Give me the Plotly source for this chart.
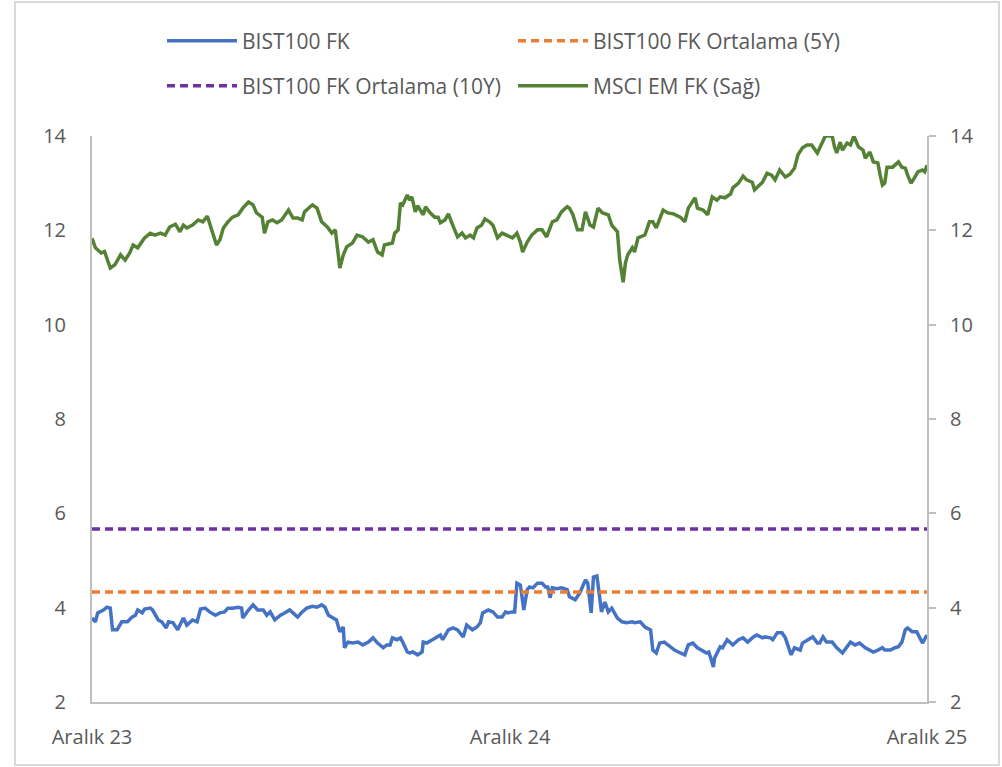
import pandas as pd
import plotly.graph_objects as go

START = "2023-12-01"

# MSCI EM F/K (right axis) - day offsets from START and values
msci_days = [0, 3, 8, 11, 16, 20, 25, 29, 33, 36, 40, 46, 51, 55, 60, 64, 68, 73, 77, 80,
             83, 88, 93, 97, 101, 105, 109, 112, 115, 119, 123, 128, 132, 137, 141, 144, 149, 151, 154, 158,
             162, 166, 172, 176, 180, 184, 186, 191, 193, 197, 201, 206, 210, 213, 217, 220, 223, 228, 232, 237,
             242, 246, 250, 254, 256, 263, 265, 268, 270, 272, 276, 278, 280, 283, 285, 290, 292, 296, 300, 303,
             305, 309, 312, 315, 320, 324, 327, 331, 334, 337, 341, 344, 348, 351, 355, 359, 363, 368, 372, 375,
             377, 381, 385, 390, 394, 398, 403, 407, 411, 416, 418, 421, 425, 429, 432, 436, 439, 443, 447, 452,
             455, 460, 462, 465, 467, 469, 473, 475, 478, 484, 488, 491, 494, 500, 504, 509, 515, 519, 522, 528,
             530, 535, 539, 543, 547, 550, 554, 559, 561, 566, 570, 573, 578, 580, 587, 591, 595, 598, 602, 607,
             611, 615, 618, 622, 626, 630, 635, 637, 642, 648, 650, 652, 655, 657, 661, 664, 667, 671, 675, 677,
             681, 684, 688, 690, 692, 694, 696, 701, 706, 709, 712, 714, 717, 719, 723, 727, 729, 731]
msci_fk = [11.83, 11.63, 11.52, 11.55, 11.20, 11.27, 11.48, 11.37, 11.52, 11.69, 11.63, 11.84, 11.94, 11.90, 11.94, 11.90, 12.07, 12.13, 11.97, 12.11,
           12.05, 12.11, 12.22, 12.18, 12.30, 12.01, 11.69, 11.80, 12.05, 12.18, 12.28, 12.33, 12.47, 12.60, 12.54, 12.37, 12.28, 11.94, 12.18, 12.22,
           12.16, 12.22, 12.43, 12.26, 12.26, 12.22, 12.39, 12.50, 12.54, 12.47, 12.18, 12.07, 11.94, 12.01, 11.20, 11.48, 11.65, 11.73, 11.90, 11.86,
           11.75, 11.80, 11.54, 11.48, 11.69, 11.73, 11.94, 12.01, 12.58, 12.54, 12.75, 12.64, 12.71, 12.39, 12.52, 12.33, 12.50, 12.37, 12.28, 12.28,
           12.16, 12.22, 12.35, 12.16, 11.86, 11.94, 11.84, 11.90, 11.84, 12.05, 12.11, 12.24, 12.18, 12.11, 11.84, 11.94, 11.90, 11.84, 11.94, 11.75,
           11.54, 11.75, 11.90, 12.01, 12.01, 11.86, 12.18, 12.22, 12.39, 12.50, 12.47, 12.33, 12.01, 12.01, 12.39, 12.11, 12.07, 12.47, 12.37, 12.33,
           12.11, 11.97, 11.37, 10.90, 11.31, 11.48, 11.63, 11.54, 11.84, 11.90, 12.18, 12.18, 12.05, 12.43, 12.37, 12.35, 12.28, 12.18, 12.47, 12.69,
           12.47, 12.43, 12.33, 12.71, 12.64, 12.71, 12.69, 12.77, 12.90, 13.00, 13.15, 13.07, 13.02, 12.86, 13.02, 13.21, 13.17, 13.07, 13.28, 13.13,
           13.19, 13.32, 13.60, 13.75, 13.81, 13.81, 13.64, 13.75, 14.00, 14.00, 13.77, 13.64, 13.87, 13.70, 13.85, 13.81, 14.00, 13.77, 13.70, 13.53,
           13.66, 13.45, 13.43, 13.17, 12.96, 13.00, 13.34, 13.34, 13.45, 13.34, 13.32, 13.17, 13.00, 13.07, 13.24, 13.28, 13.24, 13.38]

# BIST100 F/K (left axis)
bist_days = [0, 3, 5, 10, 13, 16, 18, 22, 26, 31, 35, 38, 40, 44, 46, 51, 53, 58, 61, 65,
             67, 71, 75, 80, 83, 88, 92, 95, 99, 103, 108, 112, 116, 119, 123, 128, 131, 132, 137, 141,
             145, 150, 153, 156, 160, 165, 169, 173, 176, 180, 184, 188, 193, 197, 201, 204, 207, 211, 214, 217,
             220, 221, 224, 228, 233, 237, 242, 246, 250, 255, 258, 261, 263, 267, 270, 272, 276, 278, 281, 285,
             289, 290, 293, 298, 302, 305, 307, 312, 316, 320, 325, 328, 333, 337, 340, 342, 347, 351, 355, 359,
             362, 364, 368, 370, 372, 375, 376, 378, 381, 383, 386, 390, 394, 397, 399, 401, 403, 407, 411, 416,
             418, 423, 427, 432, 434, 437, 439, 442, 444, 446, 449, 452, 455, 460, 464, 468, 473, 475, 480, 484,
             489, 491, 494, 497, 501, 506, 510, 515, 519, 522, 526, 530, 534, 538, 540, 544, 545, 550, 552, 556,
             561, 566, 570, 574, 579, 582, 587, 589, 594, 596, 600, 604, 607, 609, 612, 615, 620, 622, 627, 631,
             635, 637, 640, 643, 648, 652, 657, 661, 664, 668, 672, 677, 681, 684, 688, 692, 694, 699, 703, 706,
             709, 712, 714, 718, 722, 725, 727, 731]
bist_fk = [3.78, 3.70, 3.89, 3.95, 4.01, 3.99, 3.53, 3.53, 3.70, 3.70, 3.80, 3.84, 3.95, 3.89, 3.97, 3.99, 3.95, 3.74, 3.70, 3.57,
           3.70, 3.68, 3.53, 3.78, 3.63, 3.74, 3.70, 3.97, 3.99, 3.91, 3.84, 3.89, 3.91, 3.99, 3.99, 4.01, 3.99, 3.78, 3.95, 4.06,
           3.95, 3.95, 3.84, 3.91, 3.74, 3.84, 3.89, 3.95, 3.89, 3.80, 3.91, 3.99, 4.03, 4.01, 4.06, 4.01, 3.84, 3.78, 3.74, 3.49,
           3.59, 3.15, 3.27, 3.25, 3.27, 3.21, 3.27, 3.36, 3.25, 3.15, 3.21, 3.21, 3.36, 3.32, 3.36, 3.27, 3.06, 3.04, 3.06, 3.00,
           3.06, 3.27, 3.25, 3.32, 3.38, 3.42, 3.32, 3.53, 3.57, 3.53, 3.38, 3.63, 3.53, 3.59, 3.68, 3.89, 3.95, 3.91, 3.80, 3.80,
           3.91, 3.89, 3.91, 3.91, 4.52, 4.48, 4.31, 3.95, 4.38, 4.44, 4.42, 4.52, 4.52, 4.44, 4.44, 4.21, 4.42, 4.40, 4.42, 4.38,
           4.23, 4.17, 4.31, 4.59, 4.52, 3.89, 4.65, 4.67, 4.31, 3.91, 4.12, 3.91, 3.99, 3.78, 3.70, 3.68, 3.70, 3.68, 3.70, 3.59,
           3.53, 3.10, 3.04, 3.25, 3.27, 3.17, 3.10, 3.04, 3.00, 3.21, 3.25, 3.15, 3.10, 3.04, 3.06, 2.74, 2.93, 3.17, 3.15, 3.32,
           3.21, 3.32, 3.36, 3.27, 3.38, 3.42, 3.36, 3.38, 3.36, 3.32, 3.47, 3.47, 3.36, 3.21, 3.00, 3.15, 3.10, 3.25, 3.32, 3.38,
           3.25, 3.25, 3.38, 3.27, 3.27, 3.15, 3.04, 3.17, 3.27, 3.21, 3.25, 3.15, 3.10, 3.06, 3.10, 3.15, 3.10, 3.10, 3.15, 3.17,
           3.27, 3.53, 3.57, 3.49, 3.49, 3.36, 3.25, 3.42]

avg_5y = 4.33
avg_10y = 5.67

series_names = ["BIST100 FK", "BIST100 FK Ortalama (5Y)", "BIST100 FK Ortalama (10Y)", "MSCI EM FK (Sağ)"]
tick_dates = ["2023-12-01", "2024-12-01", "2025-12-01"]
tick_labels = ["Aralık 23", "Aralık 24", "Aralık 25"]
y_ticks = [2, 4, 6, 8, 10, 12, 14]

start = pd.Timestamp(START)
msci_x = start + pd.to_timedelta(msci_days, unit="D")
bist_x = start + pd.to_timedelta(bist_days, unit="D")
span_x = [start, start + pd.Timedelta(days=731)]

FONT = "Open Sans"
TXT = "#595959"
AX = "#bfbfbf"
FS = 20

fig = go.Figure()
fig.add_trace(go.Scatter(x=bist_x, y=bist_fk, mode="lines", name=series_names[0],
                         line=dict(color="#4472C4", width=3.5), legend="legend"))
fig.add_trace(go.Scatter(x=span_x, y=[avg_5y, avg_5y], mode="lines", name=series_names[1],
                         line=dict(color="#ED7D31", width=3.5, dash="8px,5px"), legend="legend"))
fig.add_trace(go.Scatter(x=span_x, y=[avg_10y, avg_10y], mode="lines", name=series_names[2],
                         line=dict(color="#7030A0", width=3.5, dash="8px,5px"), legend="legend2"))
fig.add_trace(go.Scatter(x=msci_x, y=msci_fk, mode="lines", name=series_names[3],
                         line=dict(color="#548235", width=3.5), yaxis="y2", legend="legend2"))

leg_common = dict(orientation="h", xref="container", yref="container", xanchor="left", yanchor="middle",
                  font=dict(family=FONT, size=21, color=TXT), itemwidth=70,
                  entrywidth=266, entrywidthmode="pixels", bgcolor="rgba(0,0,0,0)", traceorder="normal")

fig.update_layout(
    width=1002, height=767,
    margin=dict(l=92, r=75, t=136, b=65, autoexpand=False),
    paper_bgcolor="white", plot_bgcolor="white",
    font=dict(family=FONT, size=FS, color=TXT),
    showlegend=True,
    legend=dict(x=162 / 1002, y=1 - 41 / 767, **leg_common),
    legend2=dict(x=162 / 1002, y=1 - 86 / 767, **leg_common),
    xaxis=dict(type="date", range=span_x, tickvals=tick_dates, ticktext=tick_labels,
               showgrid=False, showline=True, linecolor=AX, linewidth=2, ticks="",
               ticklabelstandoff=16, tickfont=dict(family=FONT, size=FS, color=TXT), zeroline=False),
    yaxis=dict(range=[2, 14], tickvals=y_ticks, showgrid=False, showline=True, linecolor=AX, linewidth=2,
               ticks="", ticklabelstandoff=20, tickfont=dict(family=FONT, size=FS, color=TXT), zeroline=False),
    yaxis2=dict(range=[2, 14], tickvals=y_ticks, overlaying="y", side="right", showgrid=False, showline=True,
                linecolor=AX, linewidth=2, ticks="outside", ticklen=7, tickwidth=2, tickcolor=AX,
                ticklabelstandoff=10, tickfont=dict(family=FONT, size=FS, color=TXT), zeroline=False),
)

# outer chart border
fig.add_shape(type="rect", xref="paper", yref="paper",
              x0=(15 - 92) / 835, x1=(999 - 92) / 835, y0=(702 - 765) / 566, y1=(702 - 2) / 566,
              line=dict(color="#d9d9d9", width=2), fillcolor="rgba(0,0,0,0)", layer="below")

fig.write_html("out.html", config={"displayModeBar": False},
               post_script="document.body.style.margin='0';document.body.style.overflow='hidden';")
